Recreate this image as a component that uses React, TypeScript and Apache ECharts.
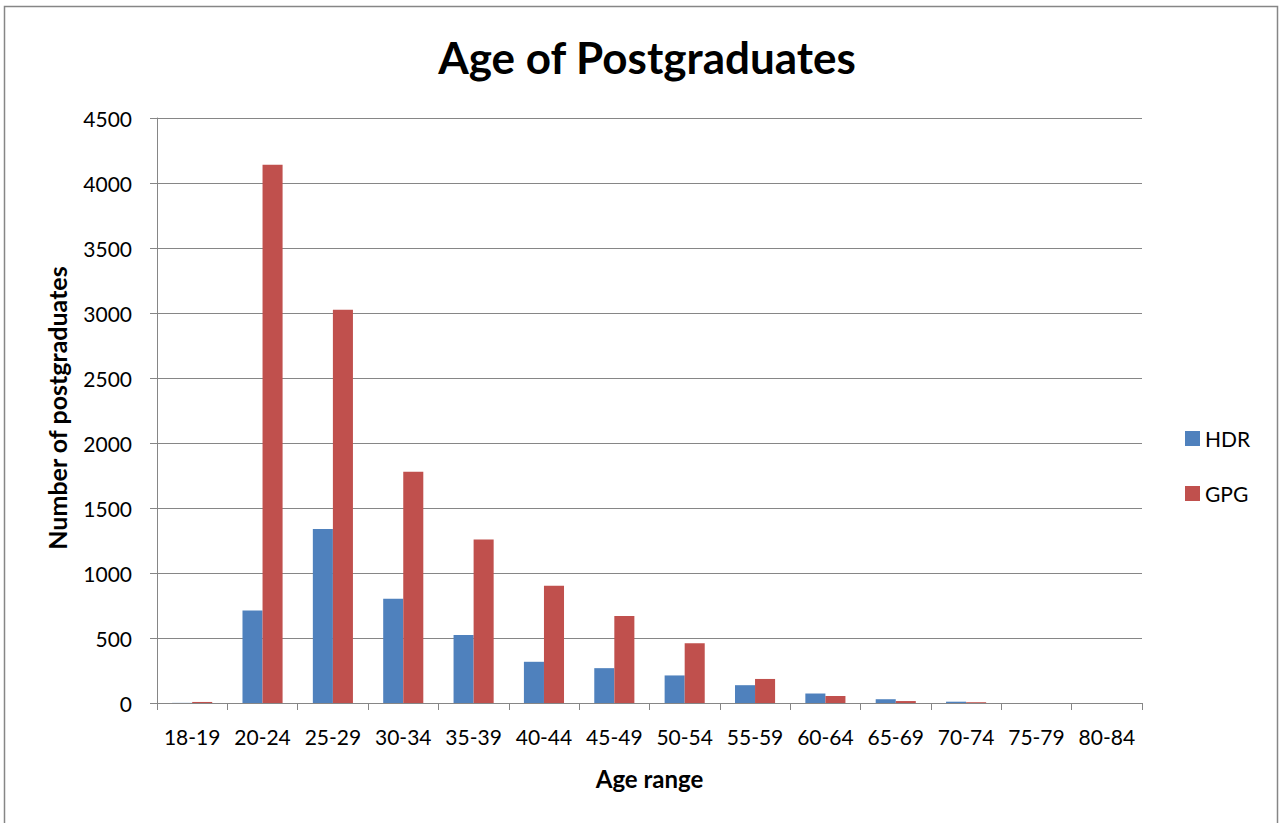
import React, { useEffect, useRef } from "react";
import * as echarts from "echarts";

const categories = ["18-19", "20-24", "25-29", "30-34", "35-39", "40-44", "45-49", "50-54", "55-59", "60-64", "65-69", "70-74", "75-79", "80-84"];
const hdrValues = [1, 711, 1338, 802, 523, 317, 268, 212, 137, 73, 29, 10, 0, 0];
const gpgValues = [8, 4140, 3025, 1778, 1257, 902, 670, 459, 185, 54, 15, 6, 0, 0];
const yTicks = { min: 0, max: 4500, interval: 500 };

const FONT = "Lato";
const GRAY = "#868686";

export default function App() {
  const ref = useRef<HTMLDivElement>(null);
  useEffect(() => {
    if (!ref.current) return;
    const chart = echarts.init(ref.current, undefined, { renderer: "svg" });
    chart.setOption({
      animation: false,
      backgroundColor: "#ffffff",
      textStyle: { fontFamily: FONT },
      title: {
        text: "Age of Postgraduates",
        left: 642,
        top: 30,
        textAlign: "center",
        textStyle: { fontFamily: FONT, fontSize: 44, fontWeight: "bold", color: "#000" },
      },
      legend: {
        orient: "vertical",
        left: 1180,
        top: 423,
        itemWidth: 15,
        itemHeight: 15,
        itemGap: 34,
        icon: "rect",
        textStyle: { fontFamily: FONT, fontSize: 21, color: "#000" },
        data: ["HDR", "GPG"],
      },
      grid: { left: 157, right: 137, top: 118, bottom: 120, containLabel: false },
      xAxis: {
        type: "category",
        data: categories,
        name: "Age range",
        nameLocation: "middle",
        nameGap: 63,
        nameTextStyle: { fontFamily: FONT, fontSize: 24, fontWeight: "bold", color: "#000", verticalAlign: "top" },
        axisLine: { lineStyle: { color: GRAY, width: 1 } },
        axisTick: { show: true, length: 7, lineStyle: { color: GRAY }, alignWithLabel: false },
        axisLabel: { margin: 23, fontFamily: FONT, fontSize: 21, color: "#000", interval: 0 },
      },
      yAxis: {
        type: "value",
        min: yTicks.min,
        max: yTicks.max,
        interval: yTicks.interval,
        axisLine: { show: true, lineStyle: { color: GRAY, width: 1 } },
        axisTick: { show: true, length: 7, lineStyle: { color: GRAY } },
        axisLabel: { margin: 25, fontFamily: FONT, fontSize: 21, color: "#000", formatter: (v: number) => String(v) },
        splitLine: { show: true, lineStyle: { color: GRAY, width: 1 } },
      },
      graphic: [
        {
          type: "rect",
          shape: { x: 4.5, y: 6.5, width: 1273, height: 840 },
          style: { fill: "none", stroke: GRAY, lineWidth: 1.5 },
          silent: true,
        },
        {
          type: "text",
          x: 57,
          y: 408,
          rotation: Math.PI / 2,
          style: {
            text: "Number of postgraduates",
            fontFamily: FONT,
            fontSize: 25,
            fontWeight: "bold",
            fill: "#000",
            align: "center",
            verticalAlign: "middle",
          },
        },
      ],
      series: [
        {
          name: "HDR",
          type: "bar",
          data: hdrValues,
          barGap: "0%",
          barCategoryGap: "43%",
          itemStyle: { color: "#4F81BD" },
        },
        {
          name: "GPG",
          type: "bar",
          data: gpgValues,
          barGap: "0%",
          barCategoryGap: "43%",
          itemStyle: { color: "#C0504D" },
        },
      ],
    });
    return () => chart.dispose();
  }, []);
  return (
    <div
      ref={ref}
      style={{ position: "fixed", left: 0, top: 0, width: 1279, height: 823, background: "#fff" }}
    />
  );
}
